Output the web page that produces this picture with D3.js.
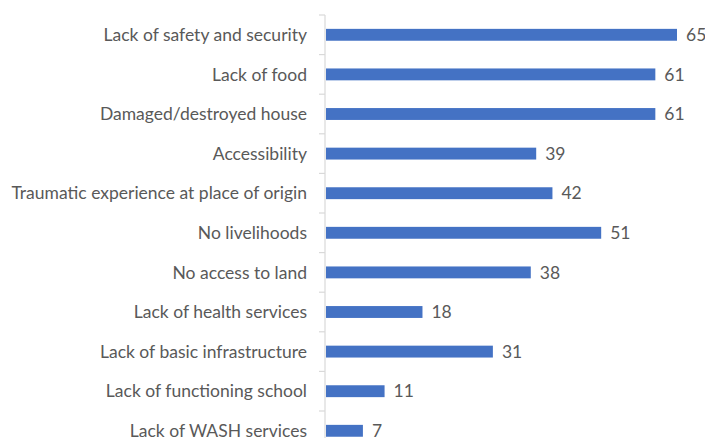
<!DOCTYPE html>
<html>
<head>
<meta charset="utf-8">
<script src="https://cdn.jsdelivr.net/npm/d3@7"></script>
<style>
  html, body { margin: 0; padding: 0; background: #fff; }
  svg { display: block; }
  text { font-family: Lato, "Open Sans", sans-serif; fill: #595959; }
</style>
</head>
<body>
<svg id="chart" width="705" height="438"></svg>
<script>
const categories = [
  "Lack of safety and security",
  "Lack of food",
  "Damaged/destroyed house",
  "Accessibility",
  "Traumatic experience at place of origin",
  "No livelihoods",
  "No access to land",
  "Lack of health services",
  "Lack of basic infrastructure",
  "Lack of functioning school",
  "Lack of WASH services"
];
const values = [65, 61, 61, 39, 42, 51, 38, 18, 31, 11, 7];

const svg = d3.select("#chart");
const axisX = 325, plotTop = 15, band = 39.6;
const fontSize = 17.5;

const x = d3.scaleLinear().domain([0, 65]).range([axisX, 677]);
const y = d3.scaleBand()
  .domain(categories)
  .range([plotTop, plotTop + band * categories.length])
  .paddingInner(0.7)
  .paddingOuter(0.35);

// category boundary ticks and axis line
const bounds = d3.range(categories.length + 1).map(i => plotTop + i * band);
svg.append("line")
  .attr("x1", axisX).attr("x2", axisX)
  .attr("y1", plotTop).attr("y2", bounds[bounds.length - 1])
  .attr("stroke", "#d9d9d9").attr("stroke-width", 1.2);
svg.selectAll("line.tick").data(bounds).join("line")
  .attr("class", "tick")
  .attr("x1", axisX - 6).attr("x2", axisX)
  .attr("y1", d => d).attr("y2", d => d)
  .attr("stroke", "#d9d9d9").attr("stroke-width", 1.2);

// bars
svg.selectAll("rect.bar").data(values).join("rect")
  .attr("class", "bar")
  .attr("x", axisX + 1)
  .attr("y", (d, i) => y(categories[i]))
  .attr("width", d => x(d) - axisX - 1)
  .attr("height", y.bandwidth())
  .attr("fill", "#4472c4");

// category labels
svg.selectAll("text.cat").data(categories).join("text")
  .attr("class", "cat")
  .attr("x", axisX - 18)
  .attr("y", d => y(d) + y.bandwidth() / 2)
  .attr("dy", "0.35em")
  .attr("text-anchor", "end")
  .attr("font-size", fontSize)
  .text(d => d);

// value labels
svg.selectAll("text.val").data(values).join("text")
  .attr("class", "val")
  .attr("x", d => x(d) + 9)
  .attr("y", (d, i) => y(categories[i]) + y.bandwidth() / 2)
  .attr("dy", "0.35em")
  .attr("font-size", fontSize)
  .text(d => d);
</script>
</body>
</html>
